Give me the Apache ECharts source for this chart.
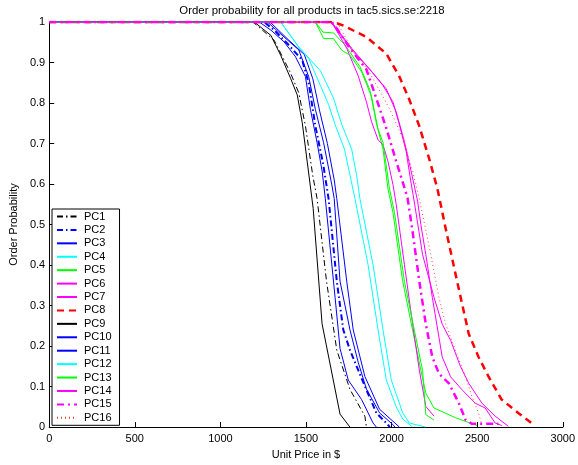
<!DOCTYPE html>
<html>
<head>
<meta charset="utf-8">
<script src="https://cdn.jsdelivr.net/npm/echarts@6/dist/echarts.min.js"></script>
<style>
html, body { margin: 0; padding: 0; background: #fff; }
#chart { width: 578px; height: 465px; }
</style>
</head>
<body>
<div id="chart"></div>
<script>
// price / probability pairs
var pc1 = [[0,1],[1190,1],[1314,0.955],[1410,0.874],[1458,0.825],[1497,0.743],[1540,0.62],[1565,0.564],[1620,0.36],[1680,0.19],[1757,0.093],[1844,0.027],[1853,0]];
var pc2 = [[0,1],[1256,1],[1314,0.98],[1391,0.947],[1478,0.906],[1516,0.849],[1555,0.743],[1600,0.65],[1632,0.564],[1680,0.36],[1718,0.24],[1757,0.19],[1833,0.112],[1911,0.035],[1969,0.01],[1990,0]];
var pc3 = [[0,1],[1227,1],[1295,0.98],[1372,0.951],[1439,0.914],[1497,0.865],[1526,0.784],[1565,0.702],[1595,0.63],[1613,0.564],[1670,0.32],[1699,0.194],[1747,0.116],[1825,0.068],[1892,0.01],[1911,0]];
var pc4 = [[0,1],[1352,1],[1458,0.938],[1584,0.88],[1661,0.812],[1709,0.747],[1767,0.686],[1796,0.621],[1815,0.564],[1892,0.4],[1950,0.24],[1998,0.117],[2065,0.035],[2104,0.01],[2200,0]];
var pc5 = [[0,1],[1555,1],[1599,0.975],[1661,0.973],[1728,0.943],[1815,0.89],[1873,0.833],[1911,0.751],[1950,0.686],[1979,0.588],[2008,0.53],[2065,0.36],[2123,0.239],[2171,0.141],[2200,0.084],[2248,0.047],[2374,0.023],[2499,0.004]];
var pc6 = [[0,1],[1650,1],[1738,0.935],[1805,0.867],[1853,0.803],[1883,0.754],[1921,0.709],[1950,0.697],[1979,0.656],[2008,0.599],[2027,0.55],[2075,0.401],[2123,0.254],[2162,0.141],[2200,0.051],[2248,0.027]];
var pc7 = [[0,1],[1640,1],[1661,0.991],[1776,0.927],[1883,0.878],[1950,0.843],[2008,0.803],[2046,0.746],[2085,0.681],[2115,0.6],[2135,0.55],[2181,0.426],[2248,0.32],[2296,0.254],[2345,0.214],[2403,0.149],[2451,0.108],[2528,0.059],[2605,0.027],[2682,0.002]];
var pc8 = [[0,1],[1661,1],[1719,0.991],[1853,0.963],[1969,0.922],[2046,0.865],[2104,0.808],[2162,0.743],[2220,0.662],[2268,0.588],[2316,0.49],[2374,0.377],[2412,0.304],[2451,0.23],[2508,0.173],[2566,0.125],[2643,0.068],[2740,0.035],[2836,0.004]];
var pc9 = [[0,1],[1198,1],[1295,0.967],[1352,0.918],[1410,0.861],[1449,0.82],[1478,0.752],[1542,0.54],[1594,0.255],[1699,0.032],[1757,0]];
var pc10 = [[0,1],[1275,1],[1372,0.963],[1458,0.931],[1516,0.865],[1555,0.784],[1603,0.702],[1650,0.6],[1665,0.564],[1699,0.36],[1757,0.24],[1805,0.16],[1853,0.094],[1930,0.035],[2008,0.006],[2020,0]];
var pc11 = [[0,1],[1290,1],[1400,0.955],[1490,0.92],[1540,0.86],[1580,0.78],[1625,0.7],[1665,0.61],[1680,0.564],[1738,0.36],[1776,0.24],[1844,0.125],[1930,0.044],[2046,0]];
var pc12 = [[0,1],[1352,1],[1458,0.938],[1516,0.91],[1574,0.853],[1632,0.796],[1670,0.747],[1725,0.686],[1786,0.564],[1863,0.4],[1921,0.24],[1969,0.117],[2027,0.05],[2065,0.02],[2123,0]];
var pc13 = [[0,1],[1555,1],[1603,0.959],[1661,0.959],[1709,0.93],[1757,0.918],[1825,0.877],[1883,0.816],[1921,0.735],[1950,0.703],[1988,0.588],[2017,0.53],[2075,0.36],[2133,0.239],[2181,0.14],[2200,0.031],[2248,0.017]];
var pc14 = [[0,1],[1650,1],[1767,0.935],[1873,0.883],[1969,0.835],[2027,0.778],[2075,0.705],[2114,0.632],[2152,0.558],[2171,0.5],[2200,0.426],[2238,0.32],[2296,0.173],[2345,0.124],[2412,0.092],[2489,0.059],[2547,0.047],[2605,0.01],[2643,0.004]];
var pc15 = [[0,1],[1650,1],[1680,0.984],[1757,0.935],[1853,0.883],[1911,0.811],[1969,0.738],[2027,0.656],[2075,0.591],[2094,0.564],[2123,0.482],[2162,0.36],[2200,0.254],[2238,0.173],[2277,0.132],[2335,0.108],[2393,0.059],[2432,0.018],[2470,0.008],[2624,0.008]];
var pc16 = [[0,1],[1680,1],[1760,0.94],[1873,0.874],[1988,0.786],[2065,0.713],[2123,0.632],[2162,0.564],[2229,0.426],[2277,0.32],[2316,0.254],[2374,0.189],[2432,0.124],[2470,0.075],[2508,0.035],[2528,0.004]];

var names = ['PC1','PC2','PC3','PC4','PC5','PC6','PC7','PC8','PC9','PC10','PC11','PC12','PC13','PC14','PC15','PC16'];
var values = [pc1,pc2,pc3,pc4,pc5,pc6,pc7,pc8,pc9,pc10,pc11,pc12,pc13,pc14,pc15,pc16];

// matlab-ish line specs
var dashDot = [6,3,1.5,3];
var styles = [
	{color:'#000000', width:1, type:dashDot},
	{color:'#0000ff', width:2, type:dashDot},
	{color:'#0000ff', width:1, type:'solid'},
	{color:'#00ffff', width:1, type:'solid'},
	{color:'#00ff00', width:1, type:'solid'},
	{color:'#ff00ff', width:1, type:'solid'},
	{color:'#ff00ff', width:1, type:'solid'},
	{color:'#ff0000', width:2.5, type:[7,5]},
	{color:'#000000', width:1, type:'solid'},
	{color:'#0000ff', width:1, type:'solid'},
	{color:'#0000ff', width:1, type:'solid'},
	{color:'#00ffff', width:1, type:'solid'},
	{color:'#00ff00', width:1, type:'solid'},
	{color:'#ff00ff', width:1, type:'solid'},
	{color:'#ff00ff', width:2.5, type:[7,4,2,4]},
	{color:'#ff3030', width:0.9, type:[1,3]}
];

var series = [];
for (var i = 0; i < names.length; i++) {
	series.push({
		name: names[i],
		type: 'line',
		data: values[i],
		symbol: 'none',
		silent: true,
		color: styles[i].color,
		lineStyle: styles[i]
	});
}

var font = 'Liberation Sans, Arial, sans-serif';

var chart = echarts.init(document.getElementById('chart'), null, {renderer: 'canvas'});
chart.setOption({
	animation: false,
	backgroundColor: '#fff',
	textStyle: {fontFamily: font},
	title: {
		text: 'Order probability for all products in tac5.sics.se:2218',
		left: 307,
		top: 0,
		textAlign: 'center',
		textStyle: {fontSize: 11.4, fontWeight: 'normal', color: '#000', fontFamily: font}
	},
	grid: {left: 46, right: 13, top: 22, bottom: 34},
	legend: {
		orient: 'vertical',
		left: 52,
		top: 209,
		data: names,
		itemWidth: 20,
		itemHeight: 13,
		itemGap: 0.42,
		padding: [1, 8, 1, 4],
		borderColor: '#000',
		borderWidth: 1,
		backgroundColor: '#fff',
		itemStyle: {opacity: 0},
		textStyle: {fontSize: 11, color: '#000', lineHeight: 13, fontFamily: font, padding: [0,0,0,2]}
	},
	xAxis: {
		type: 'value',
		min: 0,
		max: 3000,
		interval: 500,
		name: 'Unit Price in $',
		nameLocation: 'middle',
		nameGap: 18,
		nameTextStyle: {fontSize: 11, color: '#000'},
		axisLine: {lineStyle: {color: '#000', width: 1}},
		axisTick: {inside: true, length: 5, lineStyle: {color: '#000'}},
		axisLabel: {
			fontSize: 11, color: '#000', margin: 6,
			formatter: function(v) { return String(v); }
		},
		splitLine: {show: false}
	},
	yAxis: {
		type: 'value',
		min: 0,
		max: 1,
		interval: 0.1,
		name: 'Order Probability',
		nameLocation: 'middle',
		nameGap: 28,
		nameTextStyle: {fontSize: 11, color: '#000'},
		axisLine: {show: true, lineStyle: {color: '#000', width: 1}},
		axisTick: {show: true, inside: true, length: 5, lineStyle: {color: '#000'}},
		axisLabel: {
			fontSize: 11, color: '#000', margin: 4,
			formatter: function(v) { return String(Math.round(v * 10) / 10); }
		},
		splitLine: {show: false}
	},
	series: series
});
</script>
</body>
</html>
